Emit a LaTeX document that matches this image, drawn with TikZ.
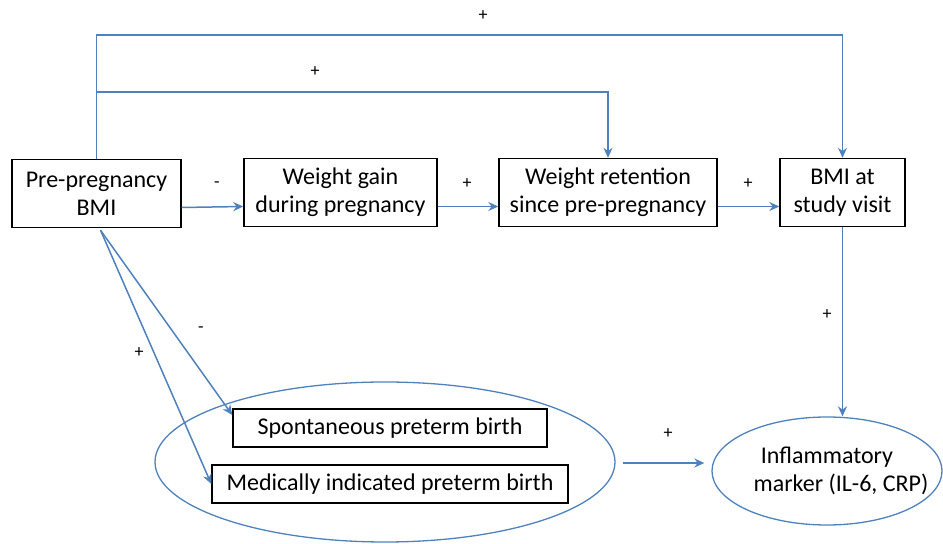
\documentclass[tikz,border=0pt]{standalone}
\usepackage{fontspec}
\setmainfont{Carlito}
\usetikzlibrary{arrows.meta,shapes.geometric}
\definecolor{linkblue}{RGB}{79,129,189}

\begin{document}
\begin{tikzpicture}[x=0.5pt,y=-0.5pt,
  box/.style={draw,line width=0.7pt,align=center,inner sep=0pt,minimum height=34pt,font=\fontsize{12}{14}\selectfont},
  oval/.style={ellipse,draw=linkblue,line width=0.65pt,align=center,inner sep=0pt,font=\fontsize{12}{14}\selectfont},
  link/.style={draw=linkblue,line width=0.75pt,-{Stealth[length=5pt,width=4.5pt]}},
  sign/.style={font=\fontsize{9}{9}\selectfont,inner sep=1pt}]
\useasboundingbox (0,0) rectangle (943,544);

% outcomes of pregnancy
\node [oval,minimum width=230pt,minimum height=80pt] (birth) at (385,462) {};
\node [box,minimum width=157pt,minimum height=19pt] (spont) at (390,428) {Spontaneous preterm birth};
\node [box,minimum width=178pt,minimum height=19pt] (med) at (390,484) {Medically indicated preterm birth};

\node [box,minimum width=84.5pt] (pre) at (96.5,193.5) {Pre-pregnancy\\BMI};
\node [box,minimum width=96.5pt] (gain) at (340.5,192.5) {Weight gain\\during pregnancy};
\node [box,minimum width=109pt] (ret) at (608,192.5) {Weight retention\\since pre-pregnancy};
\node [box,minimum width=62.5pt] (bmi) at (842.5,192.5) {BMI at\\study visit};
\node [oval,inner xsep=-14pt,minimum width=115pt,minimum height=54pt] (infl) at (827,471) {Inflammatory\\\hspace*{14pt}marker (IL-6, CRP)};

\coordinate (split) at (96.5,92);
\draw [link] (pre.north) |- (96.5,35) -| (bmi.north);
\draw [link] (split) -| (ret.north);
\draw [link] ([yshift=-7pt]pre.east) -- ([yshift=-7pt]gain.west);
\draw [link] ([yshift=-7pt]gain.east) -- ([yshift=-7pt]ret.west);
\draw [link] ([yshift=-7pt]ret.east) -- ([yshift=-7pt]bmi.west);
\draw [link] (bmi.south) -- (bmi.south |- infl.north);
\draw [link] ([xshift=2pt,yshift=-1pt]pre.south) -- ([yshift=6.5pt]spont.west);
\draw [link] ([xshift=2pt,yshift=-1pt]pre.south) -- (med.west);
\draw [link] ([xshift=3.5pt,yshift=-0.5pt]birth.east) -- ([xshift=-3.5pt,yshift=4pt]infl.west);

\node [sign] (s1) at (483,16) {+};
\node [sign] (s2) at (315,72) {+};
\node [sign] (s3) at (217,185) {-};
\node [sign] (s4) at (467,184) {+};
\node [sign] (s5) at (748,184) {+};
\node [sign] (s6) at (201,330) {-};
\node [sign] (s7) at (139,353) {+};
\node [sign] (s8) at (827,315) {+};
\node [sign] (s9) at (668,434) {+};
\end{tikzpicture}
\end{document}
